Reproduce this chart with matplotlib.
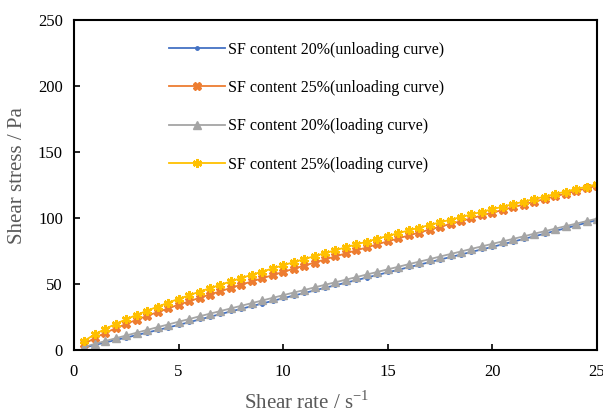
import numpy as np
import matplotlib.pyplot as plt

plt.rcParams['font.family'] = ['Liberation Serif', 'DejaVu Serif']
plt.rcParams['mathtext.fontset'] = 'custom'
plt.rcParams['mathtext.rm'] = 'Liberation Serif'

#%% data
shear_rate = [0.5, 1, 1.5, 2, 2.5, 3, 3.5, 4, 4.5, 5, 5.5, 6, 6.5, 7, 7.5, 8, 8.5, 9, 9.5, 10,
              10.5, 11, 11.5, 12, 12.5, 13, 13.5, 14, 14.5, 15, 15.5, 16, 16.5, 17, 17.5, 18, 18.5, 19, 19.5, 20,
              20.5, 21, 21.5, 22, 22.5, 23, 23.5, 24, 24.5, 25]

sf20_unloading = [1.9, 3.8, 5.7, 7.6, 9.4, 11.3, 13.2, 15.1, 17.0, 19.0, 21.0, 23.1, 25.1, 27.2, 29.2, 31.2, 33.2, 35.2, 37.2, 39.2,
                  41.2, 43.1, 45.1, 47.1, 49.0, 51.0, 52.9, 54.9, 56.8, 58.8, 60.7, 62.7, 64.6, 66.5, 68.5, 70.4, 72.3, 74.3, 76.2, 78.1,
                  80.1, 82.1, 84.1, 86.1, 88.1, 90.2, 92.2, 94.3, 96.4, 98.4]
sf25_unloading = [4.5, 9.2, 13.0, 16.5, 19.8, 22.9, 25.9, 28.7, 31.5, 34.3, 36.8, 39.5, 42.0, 44.5, 47.0, 49.5, 51.9, 54.3, 56.7, 59.1,
                  61.5, 63.8, 66.2, 68.6, 70.9, 73.2, 75.5, 77.7, 80.1, 82.3, 84.5, 86.8, 88.9, 91.2, 93.3, 95.5, 97.6, 99.8, 101.9, 104.0,
                  106.1, 108.2, 110.2, 112.3, 114.3, 116.4, 118.4, 120.5, 122.4, 124.4]
sf20_loading = [2.4, 4.6, 6.8, 8.9, 11.0, 13.1, 15.2, 17.3, 19.3, 21.4, 23.4, 25.5, 27.5, 29.5, 31.5, 33.5, 35.5, 37.5, 39.5, 41.5,
                43.5, 45.4, 47.4, 49.4, 51.3, 53.3, 55.2, 57.2, 59.1, 61.1, 63.0, 65.0, 66.9, 68.8, 70.8, 72.7, 74.6, 76.6, 78.5, 80.4,
                82.3, 84.2, 86.1, 88.1, 90.0, 91.9, 93.8, 95.7, 97.6, 99.5]
sf25_loading = [7.0, 11.9, 16.0, 19.8, 23.3, 26.6, 29.8, 32.8, 35.8, 38.7, 41.4, 44.2, 46.8, 49.4, 52.0, 54.5, 57.0, 59.4, 61.8, 64.2,
                66.5, 68.8, 71.1, 73.4, 75.6, 77.8, 80.0, 82.1, 84.3, 86.4, 88.5, 90.6, 92.6, 94.7, 96.7, 98.7, 100.7, 102.7, 104.7, 106.6,
                108.6, 110.5, 112.4, 114.3, 116.2, 118.1, 120.0, 121.9, 123.7, 125.5]

labels = ['SF content 20%(unloading curve)', 'SF content 25%(unloading curve)',
          'SF content 20%(loading curve)', 'SF content 25%(loading curve)']

#%% create a plot
fig = plt.figure(figsize=(6.03, 4.16), dpi=100)
ax = fig.add_axes([0.1227, 0.1587, 0.8673, 0.7933])

ax.plot(shear_rate, sf20_unloading, color='#4472C4', lw=1.3, marker='o', ms=2.5, label=labels[0])
ax.plot(shear_rate, sf25_unloading, color='#ED7D31', lw=1.3, marker='X', ms=5.5, label=labels[1])
ax.plot(shear_rate, sf20_loading, color='#A5A5A5', lw=1.3, marker='^', ms=5.5, label=labels[2])
ax.plot(shear_rate, sf25_loading, color='#FFC000', lw=1.3, marker=(6, 2, 0), ms=6.5, mew=1.7, label=labels[3])

ax.set_xlim(0, 25)
ax.set_ylim(0, 250)
ax.set_xticks([0, 5, 10, 15, 20, 25])
ax.set_yticks([0, 50, 100, 150, 200, 250])
ax.tick_params(direction='in', labelsize=12, length=4, width=1.2)
ax.tick_params(axis='x', pad=10)
ax.tick_params(axis='y', pad=8)
for s in ['left', 'bottom', 'right', 'top']:
    ax.spines[s].set_linewidth(1.5)

ax.set_xlabel(r'Shear rate / s$^{\mathregular{-1}}$', fontsize=15, color='#595959')
ax.set_ylabel('Shear stress / Pa', fontsize=15, color='#595959')
ax.xaxis.set_label_coords(0.444, -0.125)
ax.yaxis.set_label_coords(-0.09, 0.53)

ax.legend(loc='upper left', bbox_to_anchor=(0.155, 0.978), frameon=False, fontsize=11.5,
          handlelength=3.45, labelspacing=1.4, handletextpad=0.22)

fig.savefig('out.png', dpi=100)
